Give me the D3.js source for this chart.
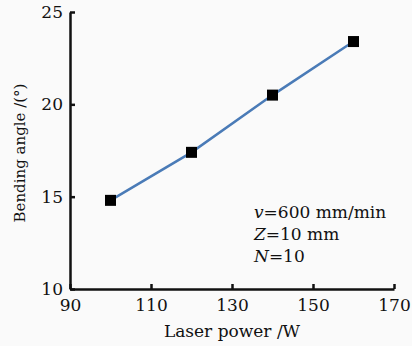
<!DOCTYPE html>
<html>
<head>
<meta charset="utf-8">
<script src="https://cdn.jsdelivr.net/npm/d3@7"></script>
<style>
  body { margin: 0; background: #fafafa; }
  svg { display: block; }
  text { font-family: "DejaVu Serif", serif; fill: #111; }
</style>
</head>
<body>
<div id="chart"></div>
<script>
// data
var power = [100, 120, 140, 160];
var angle = [14.8, 17.4, 20.5, 23.4];
var xTicks = [90, 110, 130, 150, 170];
var yTicks = [10, 15, 20, 25];
var notes = [
    [["v", true], ["=600 mm/min", false]],
    [["Z", true], ["=10 mm", false]],
    [["N", true], ["=10", false]]
];

var width = 412, height = 346;
var margin = {left: 70, right: 18, top: 12, bottom: 57};

var svg = d3.select("#chart").append("svg")
    .attr("width", width)
    .attr("height", height);

var x = d3.scaleLinear().domain([90, 170]).range([margin.left, width - margin.right]);
var y = d3.scaleLinear().domain([10, 25]).range([height - margin.bottom, margin.top]);

var xAxis = svg.append("g")
    .attr("transform", "translate(0," + (height - margin.bottom) + ")")
    .call(d3.axisBottom(x).tickValues(xTicks).tickSizeInner(-5).tickSizeOuter(0).tickPadding(6));

var yAxis = svg.append("g")
    .attr("transform", "translate(" + margin.left + ",0)")
    .call(d3.axisLeft(y).tickValues(yTicks).tickSizeInner(-5).tickSizeOuter(0).tickPadding(7));

[xAxis, yAxis].forEach(function(ax){
    ax.select(".domain").attr("stroke", "#111").attr("stroke-width", 2.5);
    ax.selectAll(".tick line").attr("stroke", "#111").attr("stroke-width", 2.5);
    ax.selectAll(".tick text").style("font-family", "'DejaVu Serif', serif")
        .style("font-size", "17px").attr("fill", "#111");
});
xAxis.selectAll(".tick text").attr("dy", "0.95em");

var pts = power.map(function(p, i){ return [p, angle[i]]; });

var line = d3.line()
    .x(function(d){ return x(d[0]); })
    .y(function(d){ return y(d[1]); });

svg.append("path")
    .datum(pts)
    .attr("d", line)
    .attr("fill", "none")
    .attr("stroke", "#4a7bb7")
    .attr("stroke-width", 2.5);

var sz = 11;
svg.selectAll("rect.pt")
    .data(pts)
    .enter()
    .append("rect")
    .attr("class", "pt")
    .attr("x", function(d){ return x(d[0]) - sz / 2; })
    .attr("y", function(d){ return y(d[1]) - sz / 2; })
    .attr("width", sz)
    .attr("height", sz)
    .attr("fill", "#000");

// axis titles
svg.append("text")
    .attr("x", (x.range()[0] + x.range()[1]) / 2)
    .attr("y", 337)
    .attr("text-anchor", "middle")
    .style("font-size", "17px")
    .text("Laser power /W");

svg.append("text")
    .attr("transform", "translate(25,153) rotate(-90)")
    .attr("text-anchor", "middle")
    .style("font-size", "15px")
    .text("Bending angle /(°)");

// conditions note
var note = svg.append("g");
notes.forEach(function(parts, i){
    var t = note.append("text")
        .attr("x", 254)
        .attr("y", 218 + i * 22)
        .style("font-size", "17px");
    parts.forEach(function(p){
        t.append("tspan").style("font-style", p[1] ? "italic" : "normal").text(p[0]);
    });
});
</script>
</body>
</html>
